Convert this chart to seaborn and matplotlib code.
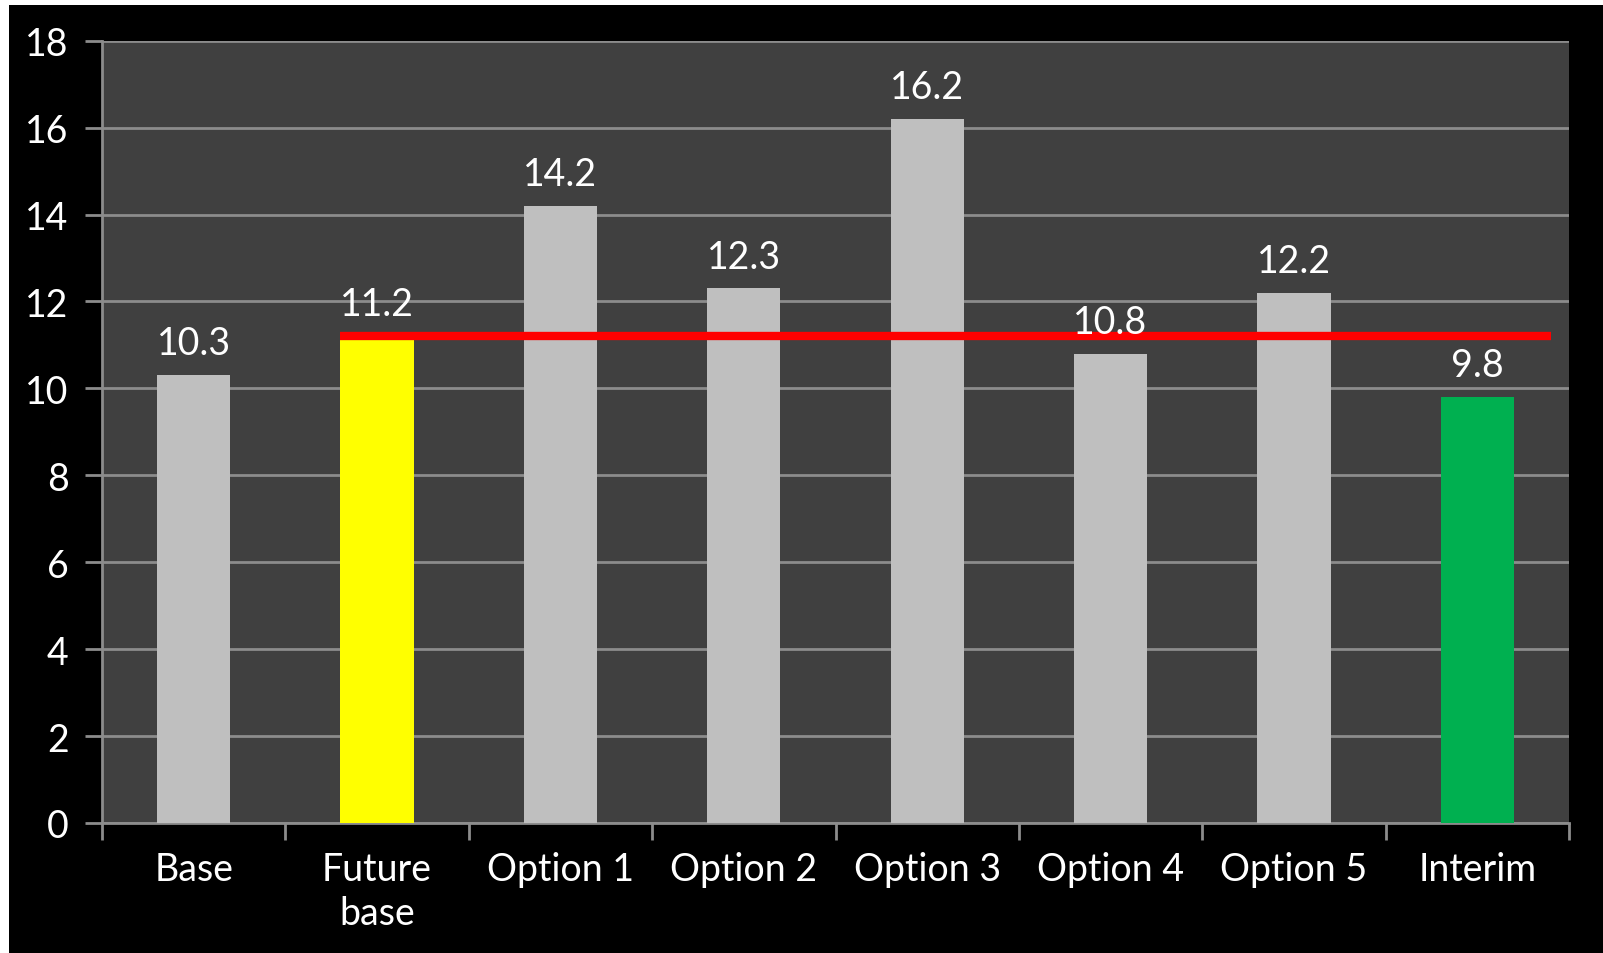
import matplotlib
matplotlib.use("Agg")
import matplotlib.pyplot as plt
import seaborn as sns
import pandas as pd
from matplotlib.patches import Rectangle

categories = ["Base", "Future\nbase", "Option 1", "Option 2", "Option 3", "Option 4", "Option 5", "Interim"]
values = [10.3, 11.2, 14.2, 12.3, 16.2, 10.8, 12.2, 9.8]
bar_colors = ["#BFBFBF", "#FFFF00", "#BFBFBF", "#BFBFBF", "#BFBFBF", "#BFBFBF", "#BFBFBF", "#00B050"]
reference_value = 11.2
y_ticks = [0, 2, 4, 6, 8, 10, 12, 14, 16, 18]

sns.set_theme(style="dark")
plt.rcParams['font.family'] = ['Lato', 'DejaVu Sans']
plt.rcParams['font.weight'] = 'normal'

df = pd.DataFrame({"category": categories, "value": values})

fig = plt.figure(figsize=(16.03, 9.54), dpi=100, facecolor="black")
ax = fig.add_axes([102/1603, 1 - 824/954, (1569-102)/1603, (824-41.7)/954])
ax.set_facecolor("#404040")

sns.barplot(data=df, x="category", y="value", hue="category", palette=bar_colors,
            width=0.4, legend=False, ax=ax, saturation=1, zorder=3,
            edgecolor="none", linewidth=0)

ax.set_ylim(0, 18)
ax.set_xlim(-0.5, len(categories) - 0.5)
ax.set_yticks(y_ticks)
ax.set_yticklabels([str(t) for t in y_ticks])
ax.yaxis.grid(True, color="#8C8C8C", linewidth=2, zorder=0)
ax.xaxis.grid(False)
ax.set_axisbelow(True)

# x ticks at category boundaries, labels at centers
ax.set_xticks([i - 0.5 for i in range(len(categories) + 1)], minor=False)
ax.set_xticklabels([""] * (len(categories) + 1))
ax.set_xticks(range(len(categories)), minor=True)
ax.set_xticklabels(categories, minor=True)
ax.tick_params(axis="x", which="major", direction="out", length=12, width=2, color="#8C8C8C", bottom=True)
ax.tick_params(axis="x", which="minor", length=0, pad=20, labelsize=27, labelcolor="white")
ax.tick_params(axis="y", direction="out", length=12, width=2, color="#8C8C8C", left=True,
               labelsize=27, labelcolor="white", pad=12)
for lbl in ax.get_xticklabels(minor=True):
    lbl.set_linespacing(1.3)

for s in ["top", "right"]:
    ax.spines[s].set_visible(False)
for s in ["left", "bottom"]:
    ax.spines[s].set_color("#8C8C8C")
    ax.spines[s].set_linewidth(2)

ax.set_xlabel("")
ax.set_ylabel("")

for i, v in enumerate(values):
    ax.annotate(f"{v}", xy=(i, v), xytext=(0, 10), textcoords="offset points",
                ha="center", va="bottom", color="white", fontsize=27, zorder=5)

ax.plot([0.8, 7.4], [reference_value, reference_value], color="#FF0000", linewidth=6,
        solid_capstyle="butt", zorder=4)

# white strips at top and left edges
fig.patches.append(Rectangle((0, 1 - 6/954), 1, 6/954, transform=fig.transFigure,
                             facecolor="white", edgecolor="none", zorder=10))
fig.patches.append(Rectangle((0, 0), 9/1603, 1, transform=fig.transFigure,
                             facecolor="white", edgecolor="none", zorder=10))

fig.savefig("out.png", dpi=100, facecolor="black")
